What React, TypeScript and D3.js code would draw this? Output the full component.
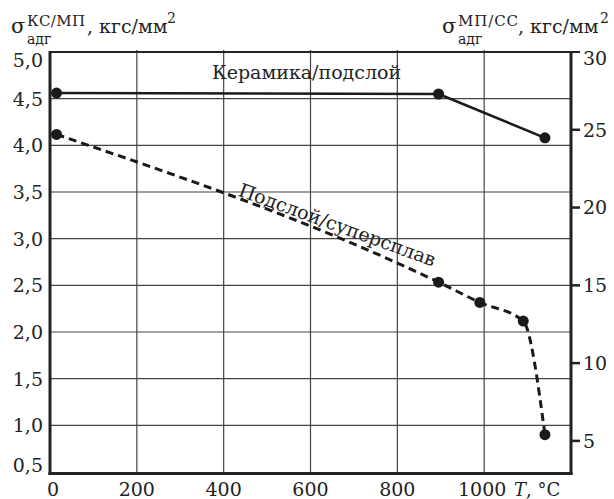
import React from "react";
import * as d3 from "d3";

// temperature ticks, °C
const xTicks = [0, 200, 400, 600, 800, 1000];
// left axis (КС/МП), кгс/мм2
const leftTicks = [0.5, 1.0, 1.5, 2.0, 2.5, 3.0, 3.5, 4.0, 4.5, 5.0];
// right axis (МП/СС), кгс/мм2
const rightTicks = [5, 10, 15, 20, 25, 30];

// Керамика/подслой (left axis)
const ceramicT = [15, 895, 1140];
const ceramicVal = [4.56, 4.55, 4.08];

// Подслой/суперсплав (right axis)
const superT = [15, 895, 990, 1090, 1140];
const superVal = [24.7, 15.2, 13.9, 12.7, 5.4];

const W = 614;
const H = 499;
const FONT = "'DejaVu Serif', serif";

const fmt = (v: number) => v.toFixed(1).replace(".", ",");

export default function App() {
  const x = d3.scaleLinear().domain([0, 1200]).range([50, 571]);
  const yL = d3.scaleLinear().domain([0.5, 5]).range([472, 52]);
  const yR = d3.scaleLinear().domain([3, 30]).range([472, 52]);

  const [x0, x1] = x.range();
  const [yB, yT] = yL.range();

  const ceramicPts: [number, number][] = ceramicT.map((t, i) => [x(t), yL(ceramicVal[i])]);
  const superPts: [number, number][] = superT.map((t, i) => [x(t), yR(superVal[i])]);

  const ceramicLine = d3.line();
  const superLine = d3.line().curve(d3.curveMonotoneX);

  return (
    <svg
      width={W}
      height={H}
      style={{ position: "absolute", left: 0, top: 0, background: "#fff" }}
      fontFamily={FONT}
    >
      {/* grid */}
      {leftTicks.slice(1, -1).map((v) => (
        <line key={"h" + v} x1={x0} x2={x1} y1={yL(v)} y2={yL(v)} stroke="#444" strokeWidth={1.2} />
      ))}
      {xTicks.slice(1).map((t) => (
        <line key={"v" + t} x1={x(t)} x2={x(t)} y1={yT - 2} y2={yB} stroke="#444" strokeWidth={1.2} />
      ))}
      {/* frame */}
      <line x1={x0} x2={x1 + 9} y1={yT} y2={yT} stroke="#222" strokeWidth={2} />
      <line x1={x0} x2={x0} y1={yT - 1} y2={yB + 3} stroke="#222" strokeWidth={3} />
      <line x1={x0 - 1.5} x2={x1 + 1.5} y1={yB + 1.5} y2={yB + 1.5} stroke="#222" strokeWidth={3} />
      <line x1={x1} x2={x1} y1={yT - 1} y2={yB + 3} stroke="#222" strokeWidth={3} />
      {rightTicks.slice(0, -1).map((v) => (
        <line key={"rt" + v} x1={x1} x2={x1 + 9} y1={yR(v)} y2={yR(v)} stroke="#222" strokeWidth={2.5} />
      ))}

      {/* left tick labels */}
      {leftTicks.map((v) => (
        <text
          key={"lt" + v}
          x={43}
          y={Math.min(Math.max(yL(v), 60), 465)}
          dy="0.36em"
          textAnchor="end"
          fontSize={19}
          fill="#222"
        >
          {fmt(v)}
        </text>
      ))}
      {/* right tick labels */}
      {rightTicks.map((v) => (
        <text
          key={"rl" + v}
          x={583}
          y={Math.max(yR(v), 58)}
          dy="0.36em"
          fontSize={19}
          fill="#222"
        >
          {v}
        </text>
      ))}
      {/* x tick labels */}
      {xTicks.map((t) => (
        <text key={"xt" + t} x={x(t) + (t === 0 ? 3 : t === 1000 ? -2 : 0)} y={496} textAnchor="middle" fontSize={19} fill="#222">
          {t}
        </text>
      ))}
      <text x={514} y={496} fontSize={18} fill="#222">
        <tspan fontStyle="italic">T</tspan>, °C
      </text>

      {/* axis titles */}
      <text x={11} y={33} fontSize={21} fill="#222">
        σ
        <tspan x={27} dy={11} fontSize={14}>адг</tspan>
        <tspan x={27} dy={-18} fontSize={15} textLength={58}>КС/МП</tspan>
        <tspan x={87} dy={7} fontSize={19}>, кгс/мм</tspan>
        <tspan x={167} dy={-10} fontSize={14}>2</tspan>
      </text>
      <text x={442} y={33} fontSize={21} fill="#222">
        σ
        <tspan x={458} dy={11} fontSize={14}>адг</tspan>
        <tspan x={458} dy={-18} fontSize={15} textLength={60}>МП/СС</tspan>
        <tspan x={518} dy={7} fontSize={19}>, кгс/мм</tspan>
        <tspan x={600} dy={-10} fontSize={14}>2</tspan>
      </text>

      {/* series */}
      <path d={ceramicLine(ceramicPts) || ""} fill="none" stroke="#1a1a1a" strokeWidth={2.6} strokeLinejoin="round" />
      <path
        d={superLine(superPts) || ""}
        fill="none"
        stroke="#1a1a1a"
        strokeWidth={3}
        strokeDasharray="8,5"
      />
      {ceramicPts.concat(superPts).map((p, i) => (
        <circle key={"pt" + i} cx={p[0]} cy={p[1]} r={5.5} fill="#1a1a1a" />
      ))}

      {/* series labels */}
      <text x={212} y={79} fontSize={19} fill="#222">
        Керамика/подслой
      </text>
      <text
        transform="translate(335,231) rotate(20)"
        textAnchor="middle"
        fontSize={19}
        fill="#222"
      >
        Подслой/суперсплав
      </text>
    </svg>
  );
}
